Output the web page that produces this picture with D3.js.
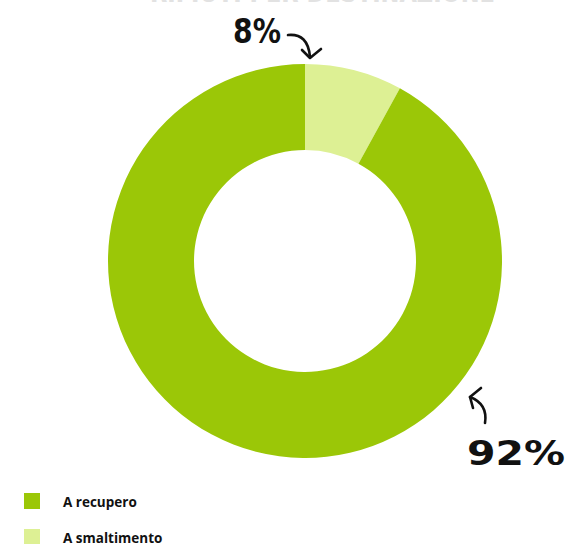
<!DOCTYPE html>
<html>
<head>
<meta charset="utf-8">
<script src="https://cdn.jsdelivr.net/npm/d3@7"></script>
<style>
  body { margin: 0; background: #fff; }
  svg { display: block; }
</style>
</head>
<body>
<div id="chart"></div>
<script>
// data
var categories = ["A recupero", "A smaltimento"];
var values = [92, 8];
var colors = ["#9bc707", "#ddf094"];
var labels = ["92%", "8%"];

var W = 569, H = 544;
var cx = 305, cy = 261, outerR = 197, innerR = 111;

var svg = d3.select("#chart").append("svg").attr("width", W).attr("height", H);

// title, cut off at the top of the picture
svg.append("text").attr("x", 150).attr("y", 2)
  .attr("textLength", 345).attr("lengthAdjust", "spacingAndGlyphs")
  .style("font-family", "DejaVu Sans").style("font-weight", "bold").style("font-size", "26px")
  .style("fill", "#e2e2e2").text("RIFIUTI PER DESTINAZIONE");

var rows = categories.map(function(c, i) { return {name: c, value: values[i], color: colors[i]}; });

// smaltimento slice starts at 12 o'clock, so pie gets the reversed order
var pie = d3.pie().sort(null).value(function(d) { return d.value; });
var arc = d3.arc().innerRadius(innerR).outerRadius(outerR);

var g = svg.append("g").attr("transform", "translate(" + cx + "," + cy + ")");
g.selectAll("path.slice").data(pie(rows.slice().reverse())).enter().append("path")
  .attr("class", "slice")
  .attr("d", arc)
  .style("fill", function(d) { return d.data.color; });

// percent labels
svg.append("text").attr("x", 233).attr("y", 43)
  .attr("textLength", 48).attr("lengthAdjust", "spacingAndGlyphs")
  .style("font-family", "DejaVu Sans").style("font-weight", "bold").style("font-size", "34px")
  .style("fill", "#111").text(labels[1]);
svg.append("text").attr("x", 467).attr("y", 465)
  .attr("textLength", 98).attr("lengthAdjust", "spacingAndGlyphs")
  .style("font-family", "DejaVu Sans").style("font-weight", "bold").style("font-size", "34px")
  .style("fill", "#111").text(labels[0]);

// hand drawn arrows
var arrows = svg.append("g").style("fill", "none").style("stroke", "#111")
  .style("stroke-width", 2.6).style("stroke-linecap", "round").style("stroke-linejoin", "round");
arrows.append("path").attr("d", "M288,35 Q308,33 310,57");
arrows.append("path").attr("d", "M302,50 L310,58 L321,49");
arrows.append("path").attr("d", "M485,423 Q488,404 470,397");
arrows.append("path").attr("d", "M481,388 L470,397 L473,408");

// legend
var leg = svg.append("g").attr("class", "legend");
var items = leg.selectAll("g.item").data(rows).enter().append("g").attr("class", "item")
  .attr("transform", function(d, i) { return "translate(24," + (493 + i * 36) + ")"; });
items.append("rect").attr("width", 16).attr("height", 16).style("fill", function(d) { return d.color; });
items.append("text").attr("x", 39).attr("y", 14)
  .style("font-family", "Open Sans").style("font-weight", "bold").style("font-size", "13.5px")
  .style("fill", "#111").text(function(d) { return d.name; });
</script>
</body>
</html>
